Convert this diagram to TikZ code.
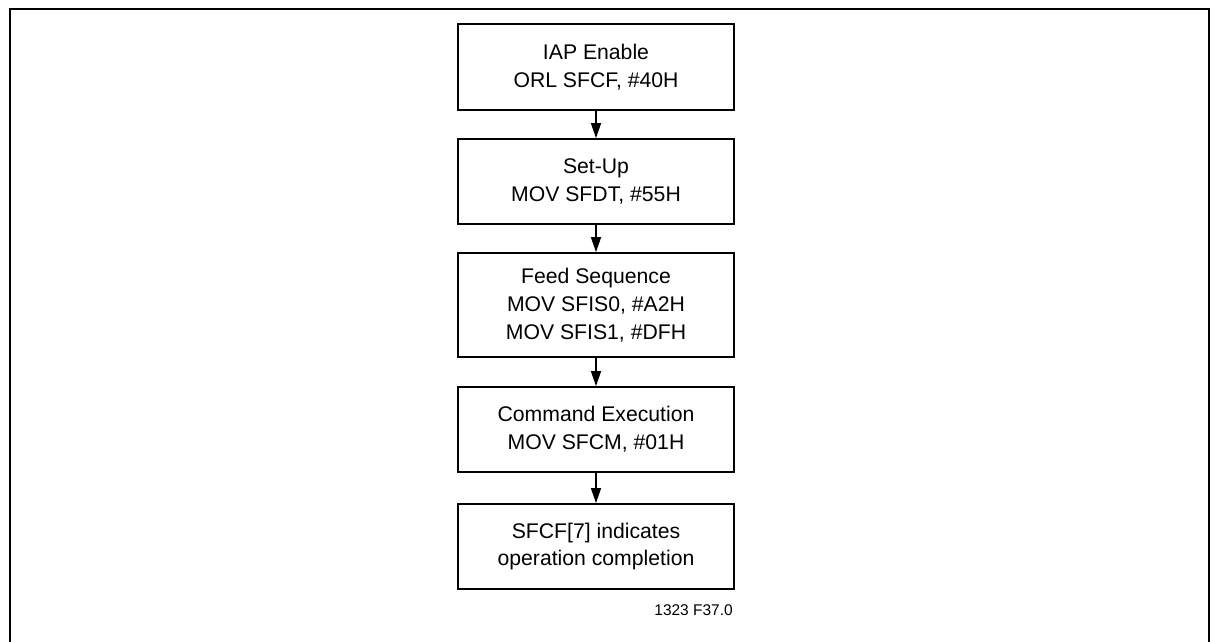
\documentclass[tikz,border=0pt]{standalone}
\usepackage{fontspec}
\setmainfont{Liberation Sans}
\usetikzlibrary{arrows.meta}
\tikzset{
  procbox/.style={draw, line width=1.8pt, minimum width=276pt, align=center,
    font=\fontsize{21.2}{27.7}\selectfont, inner sep=0pt},
  flow/.style={line width=1.6pt, -{Triangle[length=15pt,width=10pt]}}
}
\begin{document}
\begin{tikzpicture}[x=1pt, y=-1pt]
  \useasboundingbox (0, 0) rectangle (1215, 641);
  \draw[line width=2pt] (10, 645) -- (10, 9) -- (1209, 9) -- (1209, 645);

  \node[procbox, minimum height=86pt] (enable) at (596, 67){IAP Enable\\ORL SFCF, \#40H};
  \node[procbox, minimum height=85pt] (setup) at (596, 181.5){Set-Up\\MOV SFDT, \#55H};
  \node[procbox, minimum height=104pt] (feed) at (596, 305){Feed Sequence\\MOV SFIS0, \#A2H\\MOV SFIS1, \#DFH};
  \node[procbox, minimum height=85pt] (exec) at (596, 429.5){Command Execution\\MOV SFCM, \#01H};
  \node[procbox, minimum height=85pt] (done) at (596, 546.5){SFCF[7] indicates\\operation completion};

  \draw[flow] (enable) to (setup);
  \draw[flow] (setup) to (feed);
  \draw[flow] (feed) to (exec);
  \draw[flow] (exec) to (done);

  \node[anchor=east, font=\fontsize{15.5}{18}\selectfont, inner sep=0pt] (figid) at (733, 610){1323 F37.0};
\end{tikzpicture}
\end{document}
